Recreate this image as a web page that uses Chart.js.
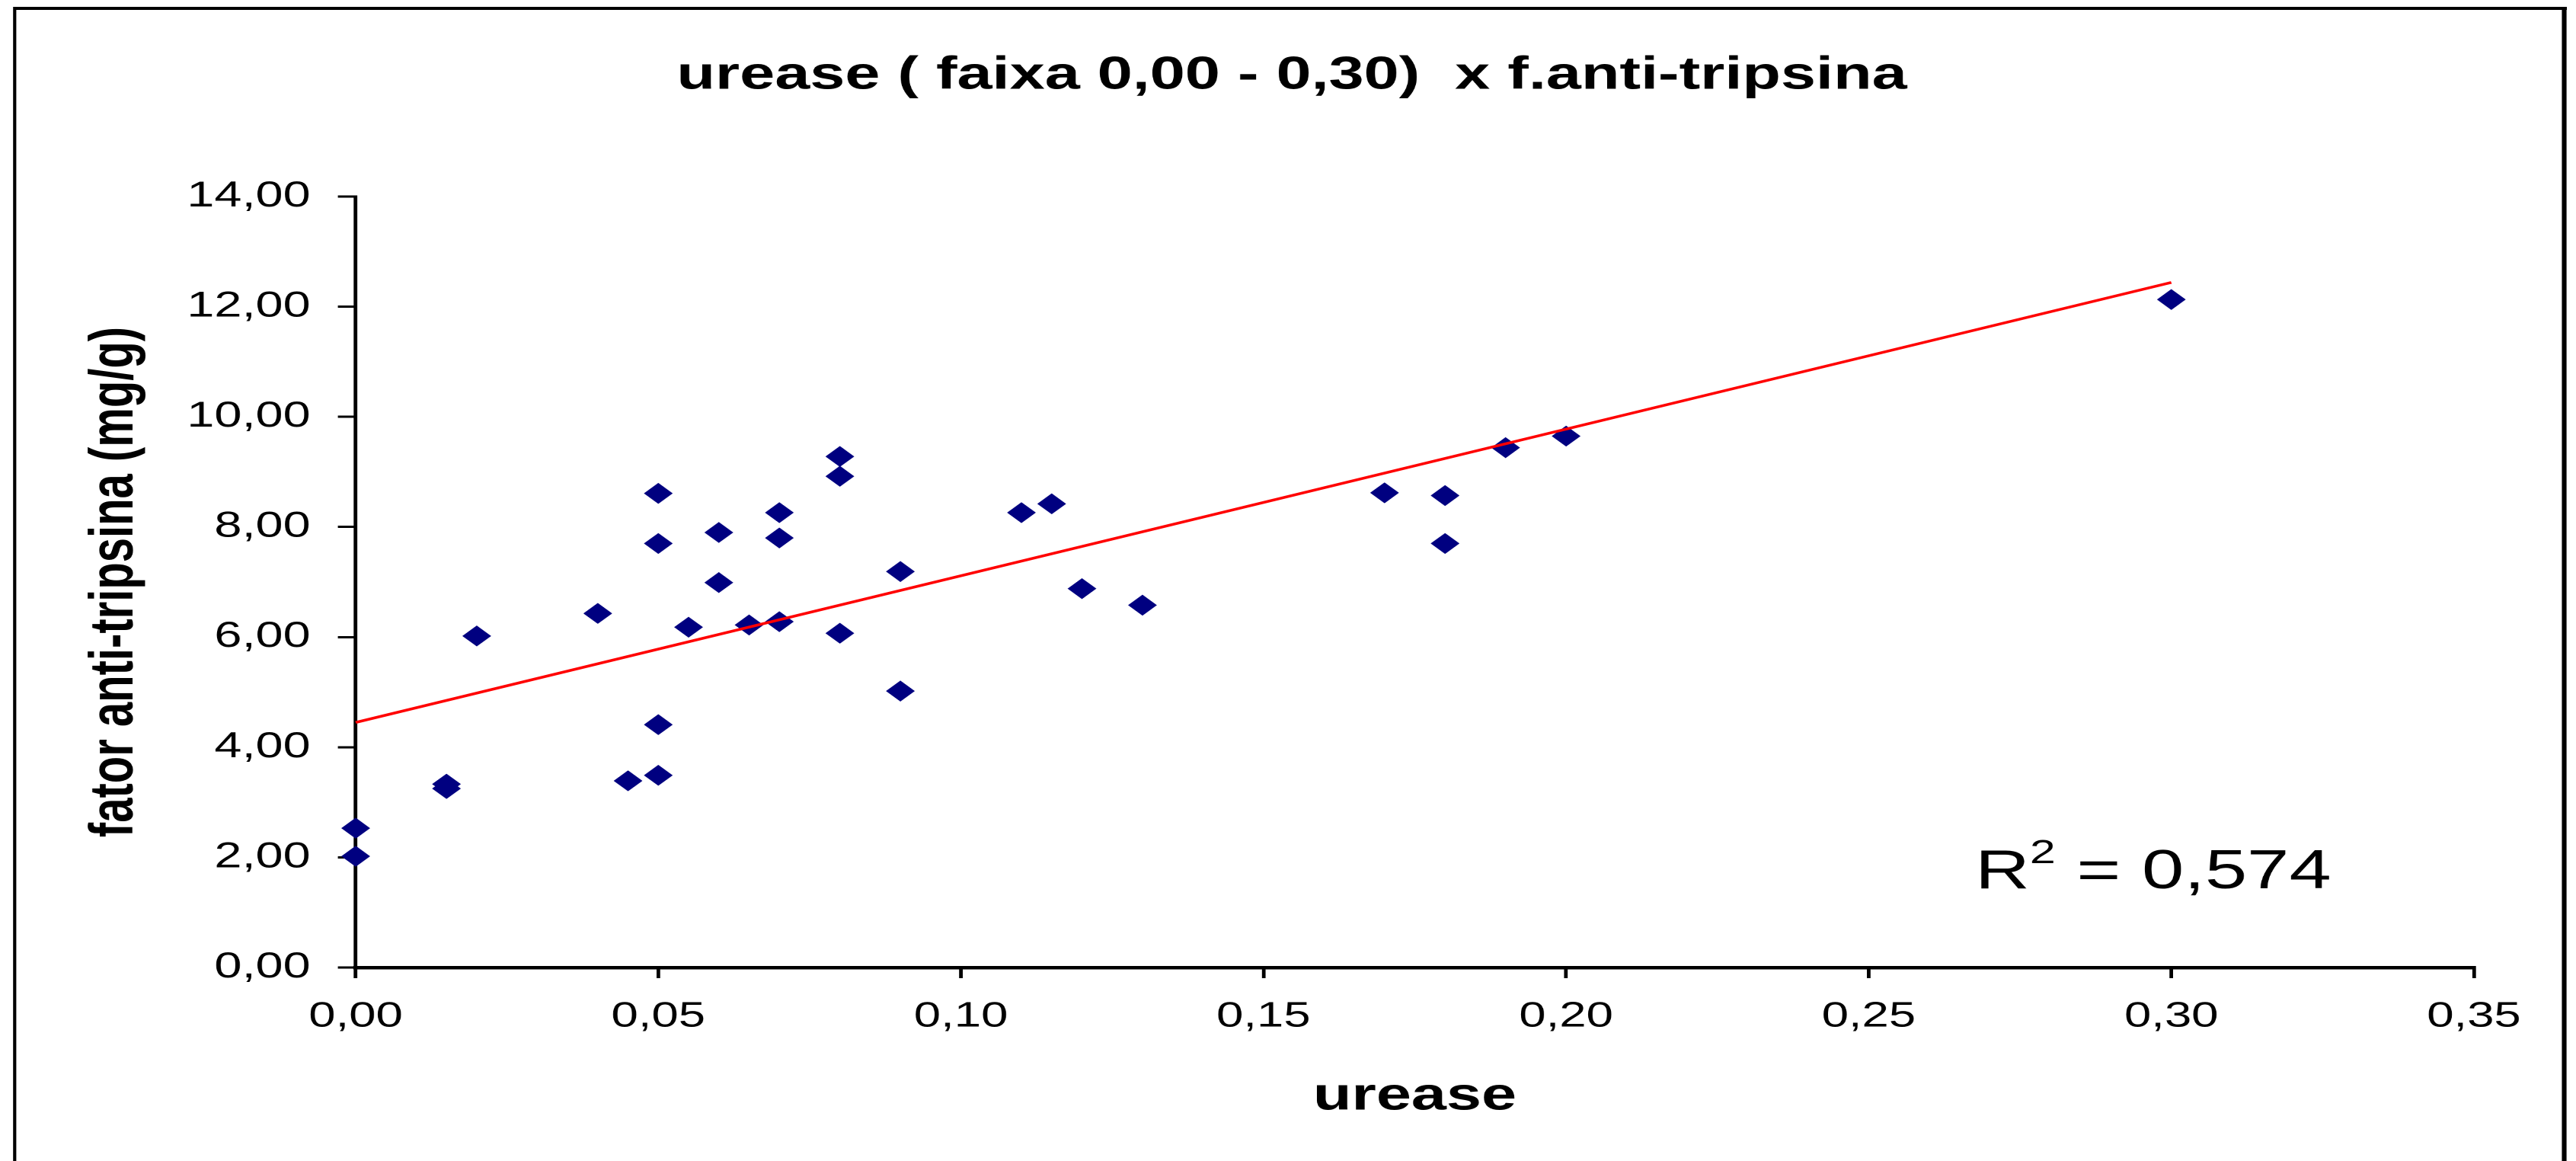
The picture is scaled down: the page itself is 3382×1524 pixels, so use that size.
<!DOCTYPE html>
<html>
<head>
<meta charset="utf-8">
<title>urease x f.anti-tripsina</title>
<script src="https://cdn.jsdelivr.net/npm/chart.js@4"></script>
<style>
  html, body { margin: 0; padding: 0; background: #fff; overflow: hidden; }
  /* the original picture is stretched sideways, so draw narrow and widen */
  #wrap {
    position: absolute; left: 0; top: 0;
    width: 2451px; height: 1524px;
    transform: scaleX(1.38); transform-origin: 0 0;
  }
</style>
</head>
<body>
<div id="wrap"><canvas id="chart"></canvas></div>
<script>
const ureaseX = [
  0, 0, 0.015, 0.015, 0.02, 0.04, 0.045, 0.05, 0.05, 0.05, 0.05,
  0.055, 0.06, 0.06, 0.065, 0.07, 0.07, 0.07, 0.08, 0.08, 0.08,
  0.09, 0.09, 0.11, 0.115, 0.12, 0.13, 0.17, 0.18, 0.18, 0.19, 0.20, 0.30
];
const antiTripsinaY = [
  2.53, 2.02, 3.33, 3.25, 6.02, 6.43, 3.39, 8.61, 7.70, 4.41, 3.49,
  6.18, 7.90, 6.99, 6.22, 8.26, 7.80, 6.28, 9.28, 8.92, 6.07,
  7.19, 5.02, 8.26, 8.42, 6.88, 6.58, 8.62, 8.57, 7.70, 9.44, 9.65, 12.13
];
const trendX = [0, 0.30];
const trendY = [4.45, 12.44];
const r2Text = "0,574";

const FONT = '"Liberation Sans", Arial, sans-serif';

const fmt = (v) => Number(v).toFixed(2).replace(".", ",");

const framePlugin = {
  id: "frame",
  beforeDraw(chart) {
    const { ctx, width, height } = chart;
    ctx.save();
    ctx.fillStyle = "#fff";
    ctx.fillRect(0, 0, width, height);
    ctx.strokeStyle = "#000";
    ctx.lineWidth = 4;
    ctx.beginPath();
    ctx.moveTo(12.5, 11);
    ctx.lineTo(2442, 11);
    ctx.stroke();
    ctx.lineWidth = 3;
    ctx.beginPath();
    ctx.moveTo(14, 9);
    ctx.lineTo(14, height);
    ctx.stroke();
    ctx.lineWidth = 4.5;
    ctx.beginPath();
    ctx.moveTo(2439.5, 9);
    ctx.lineTo(2439.5, height);
    ctx.stroke();
    ctx.restore();
  },
};

// R² label, placed in data units
const R2_AT = { x: 0.2676, y: 1.44 };
const r2Plugin = {
  id: "r2Label",
  afterDraw(chart) {
    const { ctx } = chart;
    const px = chart.scales.x.getPixelForValue(R2_AT.x);
    const py = chart.scales.y.getPixelForValue(R2_AT.y);
    ctx.save();
    ctx.fillStyle = "#000";
    ctx.textBaseline = "alphabetic";
    ctx.textAlign = "left";
    ctx.font = "72px " + FONT;
    ctx.fillText("R", px, py);
    let cx = px + ctx.measureText("R").width;
    ctx.font = "44px " + FONT;
    ctx.fillText("2", cx, py - 33);
    cx += ctx.measureText("2").width;
    ctx.font = "72px " + FONT;
    ctx.fillText(" = " + r2Text, cx, py);
    ctx.restore();
  },
};

const points = ureaseX.map((x, i) => ({ x: x, y: antiTripsinaY[i] }));
const trend = trendX.map((x, i) => ({ x: x, y: trendY[i] }));

new Chart(document.getElementById("chart"), {
  type: "scatter",
  data: {
    datasets: [
      {
        label: "fator anti-tripsina",
        data: points,
        pointStyle: "rectRot",
        pointRadius: 13,
        backgroundColor: "#000080",
        borderColor: "#000080",
        borderWidth: 1,
        clip: false,
        order: 1,
      },
      {
        label: "Linear",
        data: trend,
        showLine: true,
        borderColor: "#ff0000",
        borderWidth: 3.5,
        pointRadius: 0,
        clip: false,
        order: 0,
      },
    ],
  },
  options: {
    responsive: true,
    maintainAspectRatio: false,
    animation: false,
    devicePixelRatio: 2,
    layout: { padding: { left: 104.4, right: 97.4, top: 0, bottom: 0 } },
    scales: {
      x: {
        type: "linear",
        min: 0,
        max: 0.35,
        ticks: {
          stepSize: 0.05,
          callback: (v) => fmt(v),
          color: "#000",
          font: { family: FONT, size: 46 },
          padding: 23,
          maxRotation: 0,
          autoSkip: false,
        },
        grid: { drawOnChartArea: false, drawTicks: true, tickLength: 14, lineWidth: 3.5, color: "#000" },
        border: { display: true, color: "#000", width: 4.5 },
        title: {
          display: true,
          text: "urease",
          color: "#000",
          font: { family: FONT, size: 60, weight: "bold" },
          padding: { top: 0, bottom: 48 },
        },
        afterFit(scale) {
          scale.height = 254;
        },
      },
      y: {
        type: "linear",
        min: 0,
        max: 14,
        ticks: {
          stepSize: 2,
          callback: (v) => fmt(v),
          color: "#000",
          font: { family: FONT, size: 47 },
          padding: 26,
        },
        grid: { drawOnChartArea: false, drawTicks: true, tickLength: 17, lineWidth: 3, color: "#000" },
        border: { display: true, color: "#000", width: 3.5 },
        title: {
          display: true,
          text: "fator anti-tripsina (mg/g)",
          color: "#000",
          font: { family: FONT, size: 58, weight: "bold", lineHeight: 0.2 },
          padding: { top: 0, bottom: 0 },
        },
        afterFit(scale) {
          scale.width = 338.4 - 104.4;
        },
      },
    },
    plugins: {
      legend: { display: false },
      tooltip: { enabled: false },
      title: {
        display: true,
        text: "urease ( faixa 0,00 - 0,30)  x f.anti-tripsina",
        color: "#000",
        font: { family: FONT, size: 60, weight: "bold" },
        padding: { top: 64, bottom: 122 },
      },
    },
  },
  plugins: [framePlugin, r2Plugin],
});
</script>
</body>
</html>
